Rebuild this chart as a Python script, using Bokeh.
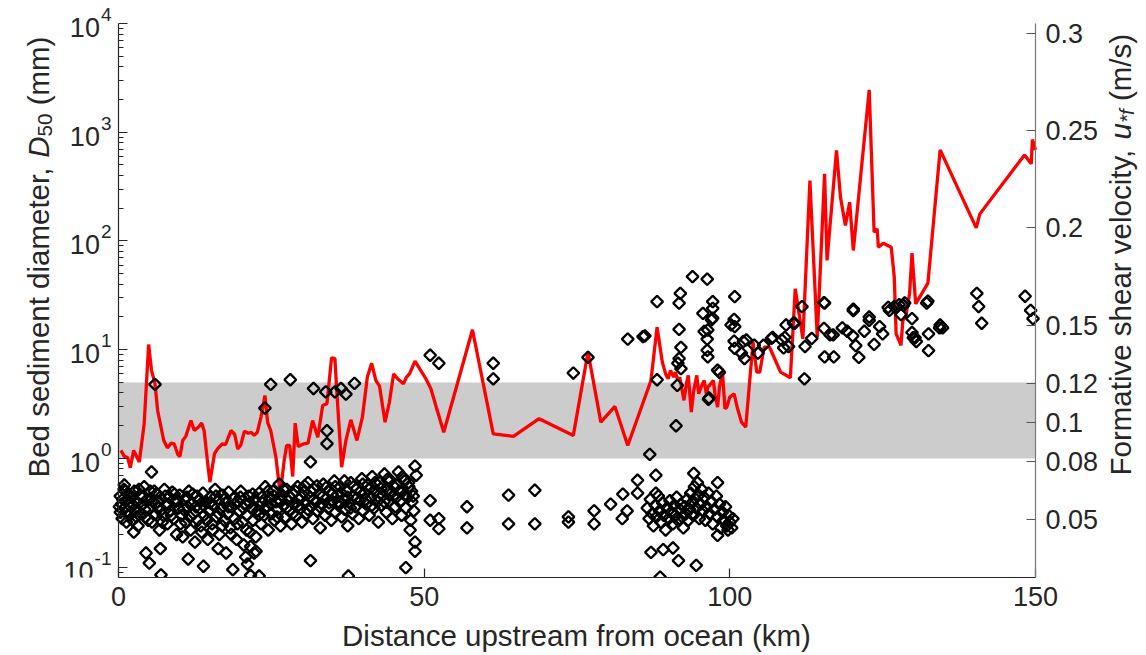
import math
from bokeh.plotting import figure
from bokeh.models import Range1d, LinearAxis, LinearScale, FixedTicker, BoxAnnotation, Label
from bokeh.embed import file_html
from bokeh.resources import INLINE

# ---------------- data ----------------
# formative shear velocity u*f (m/s) along the river (right axis)
line_km = [0.4, 0.95, 1.5, 1.93, 2.48, 3.4, 4.2, 4.93, 5.4, 5.97, 6.4, 7.4, 8.0, 8.6, 9.1, 9.7, 10.05, 10.5,
           11.0, 11.85, 12.4, 13.05, 13.6, 14.0, 14.6, 14.95, 15.7, 16.2, 17.0, 17.5, 18.4, 19.0, 19.5, 20.0,
           20.6, 21.2, 21.7, 22.2, 22.7, 23.3, 23.95, 24.4, 24.9, 25.75, 26.45, 27.1, 27.5, 28.0, 28.5, 28.9,
           29.4, 30.3, 31.0, 31.75, 32.6, 33.4, 34.1, 34.85, 35.4, 35.7, 36.5, 37.2, 38.0, 39.0, 39.9, 40.7,
           41.4, 42.1, 42.7, 43.6, 44.3, 45.0, 45.7, 46.6, 47.1, 47.6, 48.5, 49.2, 50.3, 51.1, 51.9, 53.2,
           57.9, 61.3, 64.6, 68.8, 74.4, 76.8, 78.9, 81.2, 83.3, 87.1, 88.1, 88.96, 89.5, 89.9, 90.3, 90.8,
           91.1, 91.5, 91.8, 92.2, 92.5, 92.9, 93.2, 93.7, 94.1, 94.6, 94.9, 95.3, 95.8, 96.2, 96.4, 96.9,
           97.3, 97.6, 98.0, 98.3, 98.8, 99.2, 99.5, 100.0, 100.7, 101.2, 101.9, 102.6, 103.8, 104.4, 104.9,
           105.6, 106.5, 108.3, 109.9, 110.7, 111.95, 113.1, 114.3, 115.5, 115.9, 117.45, 118.1, 118.9,
           119.6, 120.2, 121.6, 122.8, 123.6, 124.1, 124.3, 125.1, 126.4, 126.9, 127.2, 128.0, 128.3, 128.8,
           129.4, 129.8, 130.4, 132.4, 134.4, 140.3, 140.9, 148.2, 149.3, 149.5, 150.0]
line_ustar = [0.0857, 0.0826, 0.082, 0.0768, 0.0857, 0.0797, 0.0994, 0.1401, 0.1268, 0.12, 0.1062, 0.0908,
              0.087, 0.0894, 0.0891, 0.0836, 0.0826, 0.0908, 0.0929, 0.101, 0.0959, 0.0976, 0.0997, 0.0959,
              0.0788, 0.0694, 0.084, 0.0865, 0.0891, 0.0886, 0.0959, 0.094, 0.0865, 0.0884, 0.0956, 0.0945,
              0.095, 0.0934, 0.095, 0.1028, 0.1139, 0.1, 0.0959, 0.0822, 0.0631, 0.0805, 0.0882, 0.0882,
              0.0723, 0.0997, 0.0877, 0.0891, 0.0894, 0.101, 0.0925, 0.1088, 0.1097, 0.1333, 0.1328, 0.1165,
              0.0771, 0.0908, 0.1014, 0.0908, 0.1028, 0.1233, 0.1305, 0.1216, 0.1187, 0.1002, 0.1103, 0.125,
              0.1224, 0.1199, 0.1233, 0.125, 0.1315, 0.128, 0.1224, 0.1174, 0.1088, 0.095, 0.1477, 0.0942,
              0.0929, 0.102, 0.0934, 0.1362, 0.1002, 0.1083, 0.0882, 0.1216, 0.149, 0.131, 0.125, 0.1225,
              0.1268, 0.1233, 0.1259, 0.1216, 0.1233, 0.1165, 0.1114, 0.12, 0.1242, 0.1054, 0.1165, 0.1242,
              0.1148, 0.1182, 0.1216, 0.1139, 0.1182, 0.12, 0.1216, 0.1139, 0.1079, 0.1182, 0.1259, 0.1071,
              0.1079, 0.1131, 0.1148, 0.1079, 0.1002, 0.0976, 0.1413, 0.1259, 0.1259, 0.1387, 0.1387, 0.1259,
              0.123, 0.1687, 0.143, 0.2243, 0.1439, 0.2278, 0.1833, 0.2398, 0.2158, 0.2012, 0.2132, 0.1884,
              0.2329, 0.2709, 0.1978, 0.1995, 0.1901, 0.1921, 0.1901, 0.1747, 0.1456, 0.1396, 0.1524, 0.155,
              0.1662, 0.187, 0.161, 0.1716, 0.2401, 0.2, 0.2072, 0.2375, 0.2329, 0.2454, 0.24]

# bed sediment D50 (mm), sand reach 0-48 km (dense band)
sand_a_km = [0.3, 0.3, 0.5, 0.6, 0.9, 1.0, 1.2, 1.3, 1.6, 1.7, 2.0, 2.2, 2.3, 2.6, 2.8, 3.0, 3.2, 3.5, 3.7, 4.0,
             4.2, 4.4, 4.7, 5.0, 5.2, 5.5, 5.7, 6.0, 6.2, 6.5, 6.7, 7.0, 7.3, 7.5, 7.8, 8.0, 8.3, 8.5, 8.8, 9.0,
             9.3, 9.5, 9.8, 10.0, 10.3, 10.5, 10.8, 11.0, 11.3, 11.5, 11.8, 12.0, 12.3, 12.5, 12.8, 13.0, 13.3,
             13.6, 13.8, 14.0, 14.3, 14.6, 14.8, 15.0, 15.3, 15.5, 15.8, 16.0, 16.3, 16.5, 16.8, 17.0, 17.3,
             17.5, 17.8, 18.0, 18.3, 18.5, 18.8, 19.0, 19.3, 19.5, 19.8, 20.0, 20.3, 20.5, 20.8, 21.0, 21.3,
             21.5, 21.8, 22.0, 22.3, 22.5, 22.8, 23.0, 23.3, 23.5, 23.8, 24.0, 24.3, 24.5, 24.8, 25.0, 25.3,
             25.5, 25.8, 26.0, 26.3, 26.5, 26.8, 27.0, 27.3, 27.5, 27.8, 28.0, 28.3, 28.5, 28.8, 29.0, 29.3,
             29.5, 29.8, 30.0, 30.3, 30.5, 30.8, 31.0, 31.3, 31.5, 31.8, 32.0, 32.3, 32.5, 32.8, 33.0, 33.3,
             33.5, 33.8, 34.0, 34.3, 34.5, 34.8, 35.0, 35.3, 35.5, 35.8, 36.0, 36.3, 36.5, 36.8, 37.0, 37.3,
             37.5, 37.8, 38.0, 38.3, 38.5, 38.8, 39.0, 39.3, 39.5, 39.8, 40.0, 40.3, 40.5, 40.8, 41.0, 41.3,
             41.5, 41.8, 42.0, 42.3, 42.5, 42.8, 43.0, 43.3, 43.5, 43.8, 44.0, 44.3, 44.5, 44.8, 45.0, 45.3,
             45.5, 45.8, 46.0, 46.3, 46.5, 46.8, 47.0, 47.3, 47.5, 47.8, 48.0, 48.3]
sand_a_d50 = [0.45, 0.32, 0.38, 0.28, 0.52, 0.35, 0.41, 0.26, 0.47, 0.3, 0.36, 0.44, 0.27, 0.5, 0.33, 0.4, 0.24,
              0.46, 0.31, 0.38, 0.55, 0.29, 0.42, 0.34, 0.5, 0.26, 0.4, 0.31, 0.47, 0.36, 0.22, 0.42, 0.3, 0.52,
              0.37, 0.25, 0.44, 0.33, 0.49, 0.28, 0.4, 0.2, 0.35, 0.46, 0.3, 0.19, 0.42, 0.26, 0.36, 0.5, 0.22,
              0.39, 0.31, 0.17, 0.45, 0.27, 0.35, 0.21, 0.48, 0.3, 0.4, 0.18, 0.33, 0.44, 0.25, 0.37, 0.52, 0.29,
              0.41, 0.2, 0.35, 0.46, 0.27, 0.39, 0.31, 0.49, 0.23, 0.36, 0.43, 0.28, 0.18, 0.4, 0.33, 0.5, 0.26,
              0.16, 0.38, 0.3, 0.45, 0.21, 0.35, 0.27, 0.42, 0.14, 0.33, 0.48, 0.25, 0.39, 0.3, 0.55, 0.36, 0.22,
              0.44, 0.31, 0.5, 0.27, 0.4, 0.34, 0.58, 0.24, 0.46, 0.37, 0.29, 0.52, 0.41, 0.33, 0.25, 0.47, 0.38,
              0.3, 0.55, 0.42, 0.35, 0.26, 0.49, 0.39, 0.31, 0.6, 0.44, 0.36, 0.28, 0.52, 0.4, 0.33, 0.47, 0.23,
              0.38, 0.58, 0.3, 0.43, 0.35, 0.5, 0.27, 0.4, 0.62, 0.32, 0.46, 0.37, 0.55, 0.29, 0.42, 0.34, 0.51,
              0.24, 0.39, 0.6, 0.31, 0.45, 0.36, 0.53, 0.28, 0.41, 0.65, 0.33, 0.48, 0.38, 0.57, 0.3, 0.44, 0.68,
              0.35, 0.5, 0.4, 0.26, 0.6, 0.37, 0.46, 0.72, 0.32, 0.52, 0.41, 0.63, 0.28, 0.45, 0.36, 0.57, 0.75,
              0.4, 0.3, 0.5, 0.62, 0.35, 0.44, 0.55, 0.27, 0.4, 0.33]
sand_b_km = [0.15, 0.7, 1.1, 1.45, 1.85, 2.4, 2.95, 3.35, 3.85, 4.3, 4.85, 5.35, 5.85, 6.35, 6.85, 7.15, 7.65,
             8.15, 8.65, 9.15, 9.65, 10.15, 10.65, 11.15, 11.65, 12.15, 12.65, 13.15, 13.45, 13.95, 14.45,
             14.95, 15.45, 15.95, 16.45, 16.95, 17.45, 17.95, 18.45, 18.95, 19.45, 19.95, 20.45, 20.95, 21.45,
             21.95, 22.45, 22.95, 23.45, 23.95, 24.45, 24.95, 25.45, 25.95, 26.45, 26.95, 27.45, 27.95, 28.45,
             28.95, 29.45, 29.95, 30.45, 30.95, 31.45, 31.95, 32.45, 32.95, 33.45, 33.95, 34.45, 34.95, 35.45,
             35.95, 36.45, 36.95, 37.45, 37.95, 38.45, 38.95, 39.45, 39.95, 40.45, 40.95, 41.45, 41.95, 42.45,
             42.95, 43.45, 43.95, 44.45, 44.95, 45.45, 45.95, 46.45, 46.95, 47.45, 47.95, 48.2]
sand_b_d50 = [0.36, 0.42, 0.5, 0.33, 0.4, 0.37, 0.29, 0.52, 0.44, 0.34, 0.27, 0.43, 0.5, 0.4, 0.33, 0.26, 0.45,
              0.38, 0.3, 0.47, 0.41, 0.25, 0.34, 0.44, 0.29, 0.47, 0.36, 0.41, 0.24, 0.37, 0.27, 0.39, 0.22,
              0.45, 0.31, 0.24, 0.43, 0.36, 0.2, 0.38, 0.25, 0.44, 0.35, 0.22, 0.39, 0.47, 0.19, 0.3, 0.44,
              0.35, 0.5, 0.38, 0.45, 0.29, 0.41, 0.52, 0.35, 0.45, 0.31, 0.5, 0.37, 0.44, 0.56, 0.34, 0.5,
              0.42, 0.56, 0.36, 0.45, 0.54, 0.39, 0.47, 0.55, 0.4, 0.48, 0.62, 0.44, 0.35, 0.55, 0.43, 0.49,
              0.58, 0.42, 0.52, 0.37, 0.6, 0.45, 0.53, 0.4, 0.64, 0.47, 0.56, 0.44, 0.5, 0.68, 0.47, 0.6, 0.5,
              0.45]

# scattered samples 0-52 km (fine outliers and gravel in the grey band)
scat_a_km = [0.95, 2.5, 4.5, 5.04, 6.95, 6.84, 11.4, 13.9, 18.7, 16.3, 17.6, 20.8, 21.6, 21.6, 23.0, 22.2, 21.1,
             5.4, 31.4, 37.6, 47.0, 48.5, 48.5, 48.5, 48.7, 47.7, 5.97, 23.95, 24.9, 28.1, 31.4, 31.9, 33.9,
             34.1, 34.1, 35.4, 36.4, 37.2, 38.6, 50.98, 52.4]
scat_a_d50 = [0.57, 0.21, 0.135, 0.109, 0.085, 0.148, 0.119, 0.102, 0.095, 0.148, 0.135, 0.124, 0.155, 0.084,
              0.083, 0.135, 0.107, 0.75, 0.115, 0.083, 0.099, 0.14, 0.17, 0.85, 0.7, 0.22, 4.8, 2.9, 4.8, 5.3,
              0.93, 4.4, 4.1, 1.8, 1.37, 4.1, 4.4, 3.9, 4.9, 8.9, 7.5]

# sparse reach 50-88 km
mid_km = [61.3, 61.3, 74.4, 76.8, 83.3, 85.8, 50.98, 50.98, 52.4, 52.4, 57.0, 57.0, 63.8, 63.8, 68.1, 68.1,
          73.6, 73.6, 77.8, 77.8, 80.5, 82.5, 83.2, 82.4, 84.9, 84.9, 87.9, 87.9]
mid_d50 = [7.5, 5.4, 6.1, 8.5, 12.5, 13.2, 0.41, 0.27, 0.28, 0.226, 0.36, 0.23, 0.46, 0.25, 0.51, 0.25,
           0.29, 0.26, 0.33, 0.25, 0.38, 0.47, 0.33, 0.28, 0.63, 0.48, 0.70, 0.48]

# sand reach 86-101 km
sand_c_km = [86.5, 86.8, 87.0, 87.3, 87.5, 87.8, 88.0, 88.3, 88.5, 88.7, 89.0, 89.2, 89.5, 89.7, 90.0, 90.2,
             90.4, 90.7, 90.9, 91.1, 91.3, 91.5, 91.8, 92.0, 92.2, 92.4, 92.6, 92.8, 93.0, 93.2, 93.4, 93.6,
             93.8, 94.0, 94.2, 94.3, 94.5, 94.7, 94.9, 95.0, 95.2, 95.4, 95.6, 95.8, 96.0, 96.2, 96.5, 96.7,
             97.0, 97.2, 97.5, 97.8, 98.0, 98.3, 98.5, 98.8, 99.0, 99.3, 99.5, 99.8, 100.0, 100.3, 100.5,
             88.6, 94.5, 91.6, 87.1, 89.1, 90.7, 98.0, 99.7, 94.1, 98.0]
sand_c_d50 = [0.35, 0.28, 0.42, 0.31, 0.24, 0.37, 0.29, 0.45, 0.33, 0.26, 0.39, 0.3, 0.22, 0.35, 0.28, 0.41,
              0.32, 0.25, 0.37, 0.3, 0.44, 0.27, 0.34, 0.38, 0.29, 0.23, 0.36, 0.31, 0.42, 0.27, 0.34, 0.48,
              0.39, 0.3, 0.55, 0.43, 0.35, 0.6, 0.46, 0.28, 0.38, 0.52, 0.33, 0.44, 0.27, 0.36, 0.48, 0.31,
              0.4, 0.25, 0.34, 0.45, 0.29, 0.38, 0.23, 0.32, 0.27, 0.36, 0.24, 0.3, 0.26, 0.23, 0.28,
              0.081, 0.104, 0.115, 0.137, 0.145, 0.15, 0.196, 0.22, 0.73, 0.6]

# gravel reach 85-150 km
grav_km = [86.1, 88.1, 88.1, 86.9, 91.2, 91.9, 91.7, 93.9, 96.3, 95.6, 97.2, 97.2, 97.2, 96.4, 96.3, 96.3,
           96.4, 91.7, 92.0, 91.7, 91.5, 92.0, 91.4, 98.3, 96.5, 100.8, 100.8, 100.8, 95.8, 97.0, 100.2, 102.2,
           98.0, 96.6, 101.9, 102.7, 102.4, 104.6, 106.8, 108.5, 109.6, 109.2, 110.4, 111.8, 112.2, 112.3,
           113.4, 115.4, 115.4, 115.5, 117.0, 116.9, 116.4, 118.4, 119.2, 120.1, 120.6, 121.1, 120.2, 122.0,
           122.8, 123.6, 124.5, 125.0, 126.1, 126.9, 127.7, 128.6, 129.8, 130.0, 130.5, 132.4, 132.5, 132.5,
           134.3, 134.8, 140.4, 140.7, 141.2, 148.3, 149.2, 149.6, 115.5, 120.2, 122.8, 132.2, 134.4, 128.4,
           128.0, 125.9, 129.8, 130.3, 110.6, 109.0, 108.8, 107.0, 105.5, 104.0, 100.7, 100.7]
grav_d50 = [13.4, 27.7, 5.3, 1.09, 2.0, 33, 26.8, 47, 44.6, 21.6, 27.7, 24, 19.5, 15.2, 12.5, 9.9, 8.6, 15.4,
            10.5, 8.3, 7.5, 6.7, 4.7, 6.2, 3.5, 30.8, 16.3, 10.3, 14.7, 18.8, 16.9, 11.9, 6.5, 3.6, 9.3, 12.3,
            8.3, 9.3, 12.7, 12.3, 10.7, 16.9, 17.5, 24.9, 5.4, 10.7, 12.7, 27.1, 15.7, 8.6, 8.6, 13.7, 13.7,
            15.9, 14.8, 13.4, 10.9, 8.5, 22.9, 14.8, 18.6, 11.2, 16.3, 14, 23, 25, 26, 27, 19.3, 12.9, 11.9, 28,
            14, 9.8, 15.9, 15.9, 33, 25, 17.5, 31, 23, 19.3, 26.8, 23.6, 20, 26.8, 16.9, 25.6, 21, 24.5, 14.4,
            12.9, 17.5, 13, 10.4, 13, 11, 11, 19, 12]

band_d50 = (1.0, 5.0)                       # grey band (mm), = 0.08-0.12 m/s
x_ticks = [0, 50, 100, 150]
d50_exponents = [-1, 0, 1, 2, 3, 4]
ustar_ticks = [0.05, 0.08, 0.1, 0.12, 0.15, 0.2, 0.25, 0.3]
ustar_tick_labels = ["0.05", "0.08", "0.1", "0.12", "0.15", "0.2", "0.25", "0.3"]

# ---------------- layout ----------------
W, H = 1146, 655
PL, PR, PT, PB = 118, 1035, 23, 577          # pixel box of the axes
FRL, FRR = 5, W - 5                           # frame spans (almost) the whole width
XMIN, XMAX = 0.0, 150.0
YMIN, YMAX = 0.0804, 1e4
UMIN, UMAX = 0.0204, 0.305
LMIN, LMAX = math.log10(YMIN), math.log10(YMAX)
FONT = "Liberation Sans"
TXT = "#262626"
TICK_PX = 27
EXP_PX = 19
LAB_PX = 29.5
BASE_SHIFT = 8        # Bokeh draws an "alphabetic" label this far below its anchor


def km_at(px):
    return XMIN + (px - PL) / (PR - PL) * (XMAX - XMIN)


def d_at(py):
    return 10 ** (LMAX - (py - PT) / (PB - PT) * (LMAX - LMIN))


def u_at(py):
    return UMAX - (py - PT) / (PB - PT) * (UMAX - UMIN)


# the frame spans the whole canvas width/top so that titles and tick labels are not clipped
p = figure(width=W, height=H, y_axis_type="log",
           x_range=Range1d(km_at(FRL), km_at(FRR)), y_range=Range1d(d_at(PB), d_at(0)),
           output_backend="svg", toolbar_location=None,
           min_border_left=FRL, min_border_right=W - FRR, min_border_top=0, min_border_bottom=H - PB)
p.extra_y_ranges = {"u": Range1d(u_at(PB), u_at(0))}
p.extra_y_scales = {"u": LinearScale()}
p.grid.visible = False
p.outline_line_color = None
p.background_fill_color = "white"
p.border_fill_color = "white"

p.add_layout(BoxAnnotation(left=XMIN, right=XMAX, bottom=band_d50[0], top=band_d50[1],
                           fill_color="#cccccc", fill_alpha=1.0, line_color=None, level="underlay"))

minor = [m * 10 ** e for e in range(-2, 4) for m in range(2, 10) if YMIN <= m * 10 ** e <= YMAX]

# bottom axis (native tick labels)
ax_x = p.xaxis[0]
ax_x.ticker = FixedTicker(ticks=x_ticks)
ax_x.bounds = (XMIN, XMAX)
ax_x.major_label_text_font = FONT
ax_x.major_label_text_font_size = f"{TICK_PX}px"
ax_x.major_label_text_color = TXT
ax_x.major_label_standoff = 9
ax_x.minor_tick_line_color = None

# left log axis drawn at x = 0 km
ax_y = p.yaxis[0]
ax_y.ticker = FixedTicker(ticks=[10.0 ** e for e in d50_exponents], minor_ticks=minor)
ax_y.fixed_location = XMIN
ax_y.bounds = (YMIN, YMAX)
ax_y.minor_tick_line_color = "#262626"

# right linear axis drawn at x = 150 km
ax_r = LinearAxis(y_range_name="u", ticker=FixedTicker(ticks=ustar_ticks), fixed_location=XMAX,
                  bounds=(UMIN, UMAX))
p.add_layout(ax_r, "right")
ax_r.minor_tick_line_color = None

# their tick labels are drawn as annotations below (kept tiny and transparent here)
for ax in (ax_y, ax_r):
    ax.major_label_text_font_size = "1px"
    ax.major_label_text_color = None
    ax.major_label_standoff = 0
for ax in (ax_x, ax_y, ax_r):
    ax.major_tick_in = 9
    ax.major_tick_out = 0
    ax.minor_tick_in = 5
    ax.minor_tick_out = 0
    ax.axis_line_width = 1.2
    ax.major_tick_line_width = 1.2
    ax.minor_tick_line_width = 1.2
ax_x.axis_line_color = "#262626"
ax_x.major_tick_line_color = "#262626"
ax_y.axis_line_color = "#262626"
ax_y.major_tick_line_color = "#262626"
ax_r.axis_line_color = "#777777"
ax_r.major_tick_line_color = "#555555"

# data glyphs
p.line(line_km, line_ustar, y_range_name="u", line_color="#ff0000", line_width=3.3)
for xs, ys in ((sand_a_km, sand_a_d50), (sand_b_km, sand_b_d50), (scat_a_km, scat_a_d50),
               (mid_km, mid_d50), (sand_c_km, sand_c_d50), (grav_km, grav_d50)):
    p.scatter(xs, ys, marker="square", angle=math.pi / 4, size=8.3, line_color="black", line_width=2.3,
              fill_alpha=0)

# ---------------- text ----------------
W_EM = {" ": 278, "(": 333, ")": 333, ",": 278, "/": 278, "*": 389, "-": 333, "0": 556, "1": 556, "2": 556,
        "3": 556, "4": 556, "5": 556, "B": 667, "D": 722, "F": 611, "a": 556, "c": 500, "d": 556, "e": 556,
        "f": 278, "h": 556, "i": 222, "k": 500, "l": 222, "m": 833, "n": 556, "o": 556, "p": 556, "r": 333,
        "s": 500, "t": 278, "u": 556, "v": 500, "y": 500}


def tw(s, px):
    return sum(W_EM.get(c, 556) for c in s) / 1000.0 * px


def text_label(**kw):
    base = dict(text_font=FONT, text_color=TXT)
    base.update(kw)
    return Label(**base)


# left tick labels 10^n (right edge of the exponent 7 px left of the axis)
for e in d50_exponents:
    ex = str(e)
    p.add_layout(text_label(x=XMIN, y=10.0 ** e, text=ex, x_offset=-7, y_offset=9,
                            text_align="right", text_baseline="middle", text_font_size=f"{EXP_PX}px"))
    p.add_layout(text_label(x=XMIN, y=10.0 ** e, text="10", x_offset=round(-8 - tw(ex, EXP_PX), 1),
                            y_offset=-4, text_align="right", text_baseline="middle",
                            text_font_size=f"{TICK_PX}px"))

# right tick labels
for t, s in zip(ustar_ticks, ustar_tick_labels):
    p.add_layout(text_label(x=XMAX, y=t, y_range_name="u", text=s, x_offset=10,
                            text_align="left", text_baseline="middle", text_font_size=f"{TICK_PX}px"))


def vertical_title(parts, baseline_x, start_y):
    y = start_y
    for text, fs, style, dx in parts:
        lead = len(text) - len(text.lstrip(" "))
        y -= tw(" " * lead, fs)
        body = text.strip(" ")
        p.add_layout(text_label(x=km_at(baseline_x - BASE_SHIFT + dx), y=d_at(y), text=body,
                                angle=math.pi / 2, text_align="left", text_baseline="alphabetic",
                                text_font_size=f"{fs}px", text_font_style=style))
        y -= tw(body, fs)


SUB = round(LAB_PX * 0.7, 1)
vertical_title([("Bed sediment diameter,", LAB_PX, "normal", 0),
                (" D", LAB_PX, "italic", 0),
                ("50", SUB, "normal", 6),
                (" (mm)", LAB_PX, "normal", 0)], 46, 477)
vertical_title([("Formative shear velocity,", LAB_PX, "normal", 0),
                (" u", LAB_PX, "italic", 0),
                ("*f", SUB, "italic", 6),
                (" (m/s)", LAB_PX, "normal", 0)], 1128, 475)

p.add_layout(text_label(x=km_at(576), y=d_at(643 - BASE_SHIFT), text="Distance upstream from ocean (km)",
                        text_align="center", text_baseline="alphabetic", text_font_size=f"{LAB_PX}px"),
             "below")

open("out.html", "w").write(file_html(p, INLINE))
